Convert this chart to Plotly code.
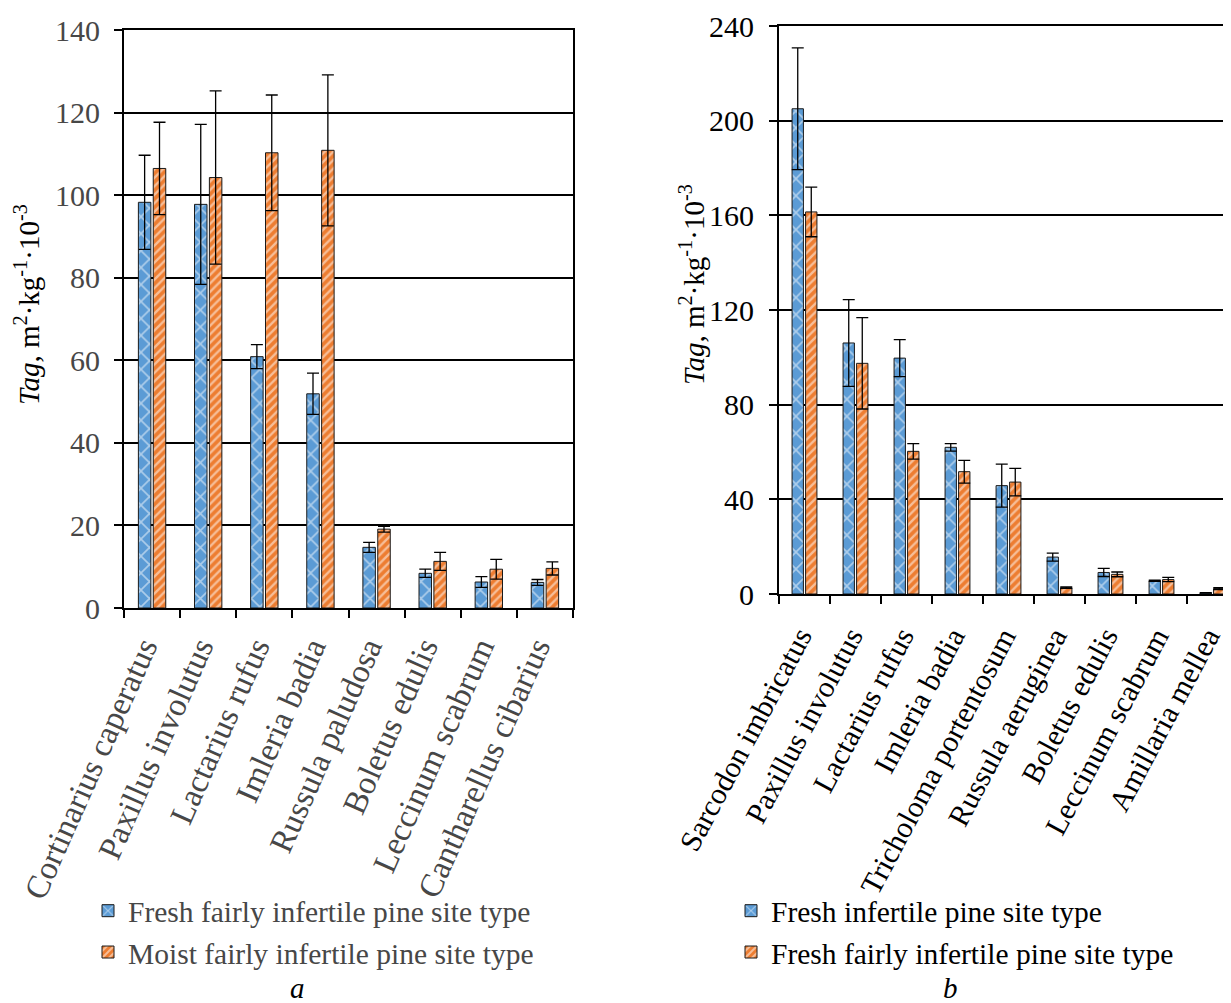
import plotly.graph_objects as go

# ---- Data: panel a ----
cats_a = ["Cortinarius caperatus", "Paxillus involutus", "Lactarius rufus", "Imleria badia",
          "Russula paludosa", "Boletus edulis", "Leccinum scabrum", "Cantharellus cibarius"]
a_fresh = [98.3, 97.8, 60.9, 51.9, 14.7, 8.4, 6.3, 6.2]
a_fresh_err = [11.4, 19.4, 2.9, 5.0, 1.2, 1.0, 1.3, 0.7]
a_moist = [106.5, 104.3, 110.3, 110.9, 19.1, 11.3, 9.4, 9.6]
a_moist_err = [11.2, 21.0, 14.0, 18.3, 0.7, 2.2, 2.4, 1.6]
name_a1 = "Fresh fairly infertile pine site type"
name_a2 = "Moist fairly infertile pine site type"

# ---- Data: panel b ----
cats_b = ["Sarcodon imbricatus", "Paxillus involutus", "Lactarius rufus", "Imleria badia",
          "Tricholoma portentosum", "Russula aeruginea", "Boletus edulis", "Leccinum scabrum",
          "Amillaria mellea"]
b_fresh = [205.1, 106.1, 99.7, 62.0, 45.8, 15.6, 9.1, 5.6, 0.5]
b_fresh_err = [25.7, 18.3, 7.8, 1.6, 9.1, 1.7, 1.7, 0.3, 0.1]
b_fairly = [161.5, 97.5, 60.3, 51.7, 47.3, 2.7, 8.3, 6.1, 2.3]
b_fairly_err = [10.5, 19.3, 3.3, 4.8, 5.8, 0.3, 1.0, 0.9, 0.4]
name_b1 = "Fresh infertile pine site type"
name_b2 = "Fresh fairly infertile pine site type"

y_ticks_a = [0, 20, 40, 60, 80, 100, 120, 140]
y_ticks_b = [0, 40, 80, 120, 160, 200, 240]

BLUE = "#5B9BD5"
ORANGE = "#ED7D31"
FONT = "Liberation Serif"
GRAY = "#474747"

# page offset (default 8px body margin)
OFF = 8
W, H = 1231 - OFF, 1003 - OFF

def px(x):
    return (x - OFF) / W

def py(y):
    return 1 - (y - OFF) / H

def bar(x, y, err, name, color, shape, size, solidity, xa, ya, legend, group):
    return go.Bar(
        x=x, y=y, name=name, xaxis=xa, yaxis=ya, legend=legend, legendgroup=group,
        marker=dict(color=color, line=dict(color="#1a1a1a", width=1),
                    pattern=dict(shape=shape, fgcolor="white", bgcolor=color,
                                 size=size, solidity=solidity, fillmode="overlay")),
        error_y=dict(type="data", array=err, color="black", thickness=1.3, width=6),
    )

fig = go.Figure()
fig.add_trace(bar(cats_a, a_fresh, a_fresh_err, name_a1, BLUE, "x", 12, 0.25, "x", "y", "legend", "a1"))
fig.add_trace(bar(cats_a, a_moist, a_moist_err, name_a2, ORANGE, "/", 6, 0.4, "x", "y", "legend", "a2"))
fig.add_trace(bar(cats_b, b_fresh, b_fresh_err, name_b1, BLUE, "x", 12, 0.25, "x2", "y2", "legend2", "b1"))
fig.add_trace(bar(cats_b, b_fairly, b_fairly_err, name_b2, ORANGE, "/", 6, 0.4, "x2", "y2", "legend2", "b2"))

ytitle = "<i>Tag</i>, m<sup>2</sup>·kg<sup>-1</sup>·10<sup>-3</sup>"

common_x = dict(type="category", tickson="boundaries", ticks="outside", ticklen=8, tickwidth=2,
                tickcolor="black", showline=True, linecolor="black", linewidth=2, mirror=True,
                showgrid=False, zeroline=False, automargin=False, ticklabeloverflow="allow")
common_y = dict(ticks="outside", ticklen=8, tickwidth=2, tickcolor="black", showline=True,
                linecolor="black", linewidth=2, showgrid=True, gridcolor="black", gridwidth=2,
                zeroline=False, automargin=False, ticklabeloverflow="allow")

fig.update_layout(
    width=W, height=H,
    margin=dict(l=0, r=0, t=0, b=0, autoexpand=False),
    paper_bgcolor="white", plot_bgcolor="white",
    font=dict(family=FONT, size=29, color="black"),
    barmode="group", bargap=0.47, bargroupgap=0.16,
    xaxis=dict(**common_x, domain=[px(124), px(573)], anchor="y",
               tickangle=-66, tickfont=dict(size=33, color=GRAY), range=[-0.5, 7.5],
               ticklabelstandoff=5, ticklabelshift=-9),
    yaxis=dict(**common_y, domain=[py(608), py(30)], anchor="x",
               range=[0, 140.05], tickvals=y_ticks_a, mirror=True,
               tickfont=dict(size=30, color=GRAY), ticklabelstandoff=8),
    xaxis2=dict(**common_x, domain=[px(779), 1.0], anchor="y2",
                tickangle=-62, tickfont=dict(size=30, color="black"),
                range=[-0.5, -0.5 + (1231 - 779) / 51.0],
                ticklabelstandoff=11, ticklabelshift=-5),
    yaxis2=dict(**common_y, domain=[py(594), py(26)], anchor="x2",
                range=[0, 240.08], tickvals=y_ticks_b,
                tickfont=dict(size=30, color="black"), ticklabelstandoff=9),
    legend=dict(x=px(88), xanchor="left", y=py(885), yanchor="top",
                font=dict(size=29.5, color=GRAY), bgcolor="rgba(0,0,0,0)",
                tracegroupgap=16, traceorder="normal"),
    legend2=dict(x=px(731), xanchor="left", y=py(885), yanchor="top",
                 font=dict(size=29.5, color="black"), bgcolor="rgba(0,0,0,0)",
                 tracegroupgap=16, traceorder="normal"),
    annotations=[
        dict(text=ytitle, x=px(27), y=py(305), xref="paper", yref="paper", textangle=-90,
             xanchor="center", yanchor="middle", showarrow=False,
             font=dict(size=29, color="black")),
        dict(text=ytitle, x=px(692), y=py(285), xref="paper", yref="paper", textangle=-90,
             xanchor="center", yanchor="middle", showarrow=False,
             font=dict(size=29, color="black")),
        dict(text="<i>a</i>", x=px(297), y=py(988), xref="paper", yref="paper",
             xanchor="center", yanchor="middle", showarrow=False,
             font=dict(size=29, color="black")),
        dict(text="<i>b</i>", x=px(950), y=py(988), xref="paper", yref="paper",
             xanchor="center", yanchor="middle", showarrow=False,
             font=dict(size=29, color="black")),
    ],
    showlegend=True,
)

fig.write_html("out.html")
